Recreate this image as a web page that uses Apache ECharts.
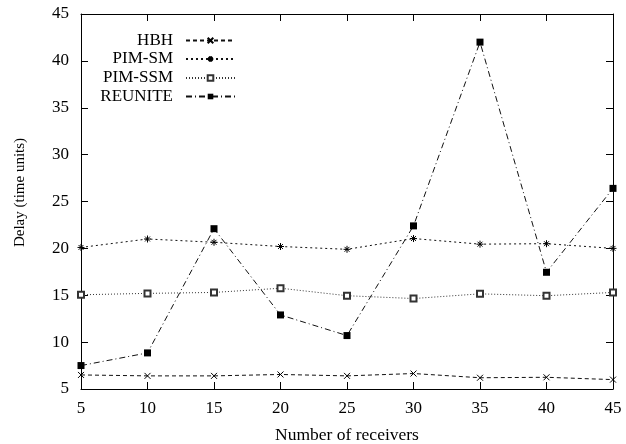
<!DOCTYPE html>
<html><head><meta charset="utf-8">
<script src="https://cdn.jsdelivr.net/npm/echarts@6/dist/echarts.min.js"></script>
<style>html,body{margin:0;padding:0;background:#fff}#c{width:626px;height:444px}</style>
</head><body><div id="c"></div>
<script>
const receivers = [5, 10, 15, 20, 25, 30, 35, 40, 45];
const hbh     = [6.5, 6.4, 6.4, 6.55, 6.4, 6.65, 6.2, 6.25, 6.0];
const pimSm   = [20.1, 21.0, 20.65, 20.2, 19.9, 21.05, 20.45, 20.5, 20.0];
const pimSsm  = [15.05, 15.2, 15.3, 15.75, 14.95, 14.65, 15.15, 14.95, 15.3];
const reunite = [7.5, 8.85, 22.1, 12.9, 10.7, 22.4, 42.0, 17.45, 26.4];
const seriesNames = ['HBH', 'PIM-SM', 'PIM-SSM', 'REUNITE'];

const FONT = 'Liberation Serif';
const pair = arr => receivers.map((x, i) => [x, arr[i]]);
const crossPath = 'path://M0,0L10,10M10,0L0,10';
const starPath = 'path://M5,0L5,10M0,5L10,5M1.5,1.5L8.5,8.5M8.5,1.5L1.5,8.5';

const chart = echarts.init(document.getElementById('c'), null, {renderer: 'canvas'});
const lineCommon = {type: 'line', smooth: false, z: 3};
const series = [
  Object.assign({}, lineCommon, {
    name: seriesNames[0], data: pair(hbh), symbol: crossPath, symbolSize: 6,
    lineStyle: {color: '#111', width: 1, type: [4, 3]},
    itemStyle: {color: 'none', borderColor: '#000', borderWidth: 1}
  }),
  Object.assign({}, lineCommon, {
    name: seriesNames[1], data: pair(pimSm), symbol: starPath, symbolSize: 7,
    lineStyle: {color: '#111', width: 1, type: [2, 3]},
    itemStyle: {color: 'none', borderColor: '#000', borderWidth: 1}
  }),
  Object.assign({}, lineCommon, {
    name: seriesNames[2], data: pair(pimSsm), symbol: 'emptyRect', symbolSize: 6,
    lineStyle: {color: '#333', width: 1, type: [1, 2]},
    itemStyle: {color: '#333', borderColor: '#333', borderWidth: 1}
  }),
  Object.assign({}, lineCommon, {
    name: seriesNames[3], data: pair(reunite), symbol: 'rect', symbolSize: 7,
    lineStyle: {color: '#111', width: 1, type: [6, 3, 1, 3]},
    itemStyle: {color: '#000', borderColor: '#000', borderWidth: 0}
  })
];

const legendTops = [32, 50.5, 69.5, 88];
const legends = seriesNames.map((n, i) => ({
  data: [n], orient: 'vertical', align: 'right', right: 390, top: legendTops[i],
  itemWidth: 49, itemHeight: 7, itemGap: 0, padding: 0,
  textStyle: {fontFamily: FONT, fontSize: 17, color: '#000', padding: [0, 8, 0, 0]},
  selectedMode: false
}));

const axisLine = {show: true, lineStyle: {color: '#000', width: 1}};
const tick = {inside: true, length: 7, lineStyle: {color: '#000'}};
chart.setOption({
  animation: false,
  backgroundColor: '#fff',
  grid: {left: 81, right: 13, top: 14, bottom: 55, containLabel: false, outerBoundsMode: 'none'},
  legend: legends,
  xAxis: [{
    type: 'value', min: 5, max: 45, interval: 5,
    name: 'Number of receivers', nameLocation: 'middle', nameGap: 37,
    nameTextStyle: {fontFamily: FONT, fontSize: 17.5, color: '#000'},
    axisLine: axisLine, axisTick: tick,
    axisLabel: {fontFamily: FONT, fontSize: 17, color: '#000', margin: 11},
    splitLine: {show: false}
  }, {
    type: 'value', position: 'top', min: 5, max: 45, interval: 5,
    axisLine: axisLine, axisTick: tick,
    axisLabel: {show: false}, splitLine: {show: false}
  }],
  yAxis: [{
    type: 'value', min: 5, max: 45, interval: 5,
    name: 'Delay (time units)', nameLocation: 'middle', nameGap: 53, nameRotate: 90,
    nameTextStyle: {fontFamily: FONT, fontSize: 15, color: '#000', padding: [0, 0, 0, 18]},
    axisLine: axisLine, axisTick: tick,
    axisLabel: {fontFamily: FONT, fontSize: 17, color: '#000', margin: 12},
    splitLine: {show: false}
  }, {
    type: 'value', position: 'right', min: 5, max: 45, interval: 5,
    axisLine: axisLine, axisTick: tick,
    axisLabel: {show: false}, splitLine: {show: false}
  }],
  series: series
});
</script></body></html>
